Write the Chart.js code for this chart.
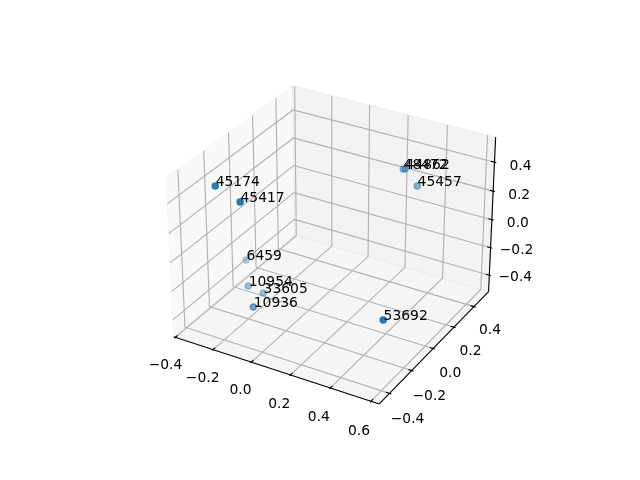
<!DOCTYPE html>
<html><head><meta charset="utf-8">
<style>html,body{margin:0;padding:0;background:#fff}canvas{display:block}</style>
<script src="https://cdn.jsdelivr.net/npm/chart.js@4"></script>
</head><body><canvas id="c" width="640" height="480"></canvas>
<script>
// Point data
const pointLabels = ['45174','45417','6459','10954','33605','10936','53692','48472','44862','45457'];
const xValues = [-0.253,-0.119,-0.342,-0.257,-0.190,-0.120,0.537,0.242,0.254,0.337];
const yValues = [-0.351,-0.364,0.012,-0.106,-0.086,-0.279,-0.277,0.433,0.430,0.392];
const zValues = [0.487,0.439,-0.305,-0.375,-0.412,-0.342,-0.153,0.284,0.290,0.226];
// Axis ticks and limits
const xTicks = [-0.4,-0.2,0,0.2,0.4,0.6];
const yTicks = [-0.4,-0.2,0,0.2,0.4];
const zTicks = [-0.4,-0.2,0,0.2,0.4];
const xLim = [-0.41,0.64];
const yLim = [-0.49,0.55];
const zLim = [-0.52,0.57];

// mplot3d style camera (elev 30, azim -60, box aspect 4:4:3, distance 10)
const BOX = [1.1905,1.1905,0.912], DIST = 10;
const U = [0.866025,0.5,0], V = [-0.25,0.433013,0.866025], W = [0.433013,-0.75,0.5];
const SCALE = 1980, CX = 334, CY = 237.3;
const dot = (a,b)=>a[0]*b[0]+a[1]*b[1]+a[2]*b[2];
const boxed = (x,y,z)=>[
  ((x-xLim[0])/(xLim[1]-xLim[0])-0.5)*BOX[0],
  ((y-yLim[0])/(yLim[1]-yLim[0])-0.5)*BOX[1],
  ((z-zLim[0])/(zLim[1]-zLim[0])-0.5)*BOX[2]];
const project = (x,y,z)=>{const d=boxed(x,y,z),k=DIST-dot(d,W);return {x:dot(d,U)/k,y:dot(d,V)/k};};
const depth = (x,y,z)=>dot(boxed(x,y,z),W);

const datasets = [];
let order = 1000;
function addLine(pts,color,width,fill){
  datasets.push({type:'scatter',showLine:true,data:pts.map(p=>project(...p)),borderColor:color,borderWidth:width,
    backgroundColor:fill||'transparent',fill:fill?'shape':false,pointRadius:0,tension:0,order:order--,
    borderCapStyle:'butt',borderJoinStyle:'miter'});
}
const [x0,x1]=xLim,[y0,y1]=yLim,[z0,z1]=zLim;
addLine([[x0,y0,z0],[x0,y1,z0],[x0,y1,z1],[x0,y0,z1],[x0,y0,z0]],'rgba(242,242,242,0.5)',1.1,'rgba(242,242,242,0.5)');
addLine([[x0,y1,z0],[x1,y1,z0],[x1,y1,z1],[x0,y1,z1],[x0,y1,z0]],'rgba(230,230,230,0.5)',1.1,'rgba(230,230,230,0.5)');
addLine([[x0,y0,z0],[x1,y0,z0],[x1,y1,z0],[x0,y1,z0],[x0,y0,z0]],'rgba(236,236,236,0.5)',1.1,'rgba(236,236,236,0.5)');
const GRID='rgb(176,176,176)', LW=1.11;
xTicks.forEach(t=>addLine([[t,y0,z0],[t,y1,z0],[t,y1,z1]],GRID,LW));
yTicks.forEach(t=>addLine([[x0,t,z1],[x0,t,z0],[x1,t,z0]],GRID,LW));
zTicks.forEach(t=>addLine([[x0,y0,t],[x0,y1,t],[x1,y1,t]],GRID,LW));
addLine([[x0,y0,z0],[x1,y0,z0]],'#000',LW);
addLine([[x1,y0,z0],[x1,y1,z0]],'#000',LW);
addLine([[x1,y1,z0],[x1,y1,z1]],'#000',LW);
const dx=(x1-x0)/12,dy=(y1-y0)/12;
xTicks.forEach(t=>addLine([[t,y0-0.1*dy,z0],[t,y0+0.2*dy,z0]],'#000',LW));
yTicks.forEach(t=>addLine([[x1+0.1*dx,t,z0],[x1-0.2*dx,t,z0]],'#000',LW));
zTicks.forEach(t=>addLine([[x1+0.1*dx,y1,t],[x1-0.2*dx,y1,t]],'#000',LW));

// depth shaded scatter points, far ones first
const depths = xValues.map((x,i)=>depth(x,yValues[i],zValues[i]));
const dMin=Math.min(...depths),dMax=Math.max(...depths);
const idx = xValues.map((_,i)=>i).sort((a,b)=>depths[a]-depths[b]);
idx.forEach(i=>{
  const a=0.3+0.7*(depths[i]-dMin)/(dMax-dMin);
  const c=`rgba(31,119,180,${a.toFixed(3)})`;
  datasets.push({type:'scatter',showLine:false,data:[project(xValues[i],yValues[i],zValues[i])],
    pointRadius:3,pointBorderWidth:1.5,pointBackgroundColor:c,pointBorderColor:c,order:order--});
});

const fmt=v=>v.toFixed(1).replace('-','\u2212');
const textPlugin={id:'texts',afterDatasetsDraw(chart){
  const c=chart.ctx,sx=chart.scales.x,sy=chart.scales.y;
  const px=p=>[sx.getPixelForValue(p.x),sy.getPixelForValue(p.y)];
  c.save();c.fillStyle='#000';c.font='13.89px "DejaVu Sans"';
  c.textAlign='left';c.textBaseline='alphabetic';
  pointLabels.forEach((l,i)=>{const [a,b]=px(project(xValues[i],yValues[i],zValues[i]));c.fillText(l,a+0.4,b);});
  c.textBaseline='middle';c.textAlign='center';
  xTicks.forEach(t=>{const [a,b]=px(project(t,y0,z0));c.fillText(fmt(t),a-10-(t+0.4)*2,b+28+(t+0.4)*2);});
  yTicks.forEach(t=>{const [a,b]=px(project(x1,t,z0));c.fillText(fmt(t),a+16+(0.4-t)*2.5,b+24+(0.4-t)*2.5);});
  zTicks.forEach(t=>{const [a,b]=px(project(x1,y1,t));c.fillText(fmt(t),a+26,b+2.5+(t+0.4)*2.5);});
  c.restore();
}};

new Chart(document.getElementById('c'),{
  type:'scatter',
  data:{datasets},
  options:{responsive:false,animation:false,events:[],layout:{padding:0,autoPadding:false},
    plugins:{legend:{display:false},tooltip:{enabled:false},title:{display:false}},
    scales:{
      x:{type:'linear',display:false,min:(0-CX)/SCALE,max:(640-CX)/SCALE},
      y:{type:'linear',display:false,min:(CY-480)/SCALE,max:CY/SCALE}
    }},
  plugins:[textPlugin]
});
</script></body></html>
